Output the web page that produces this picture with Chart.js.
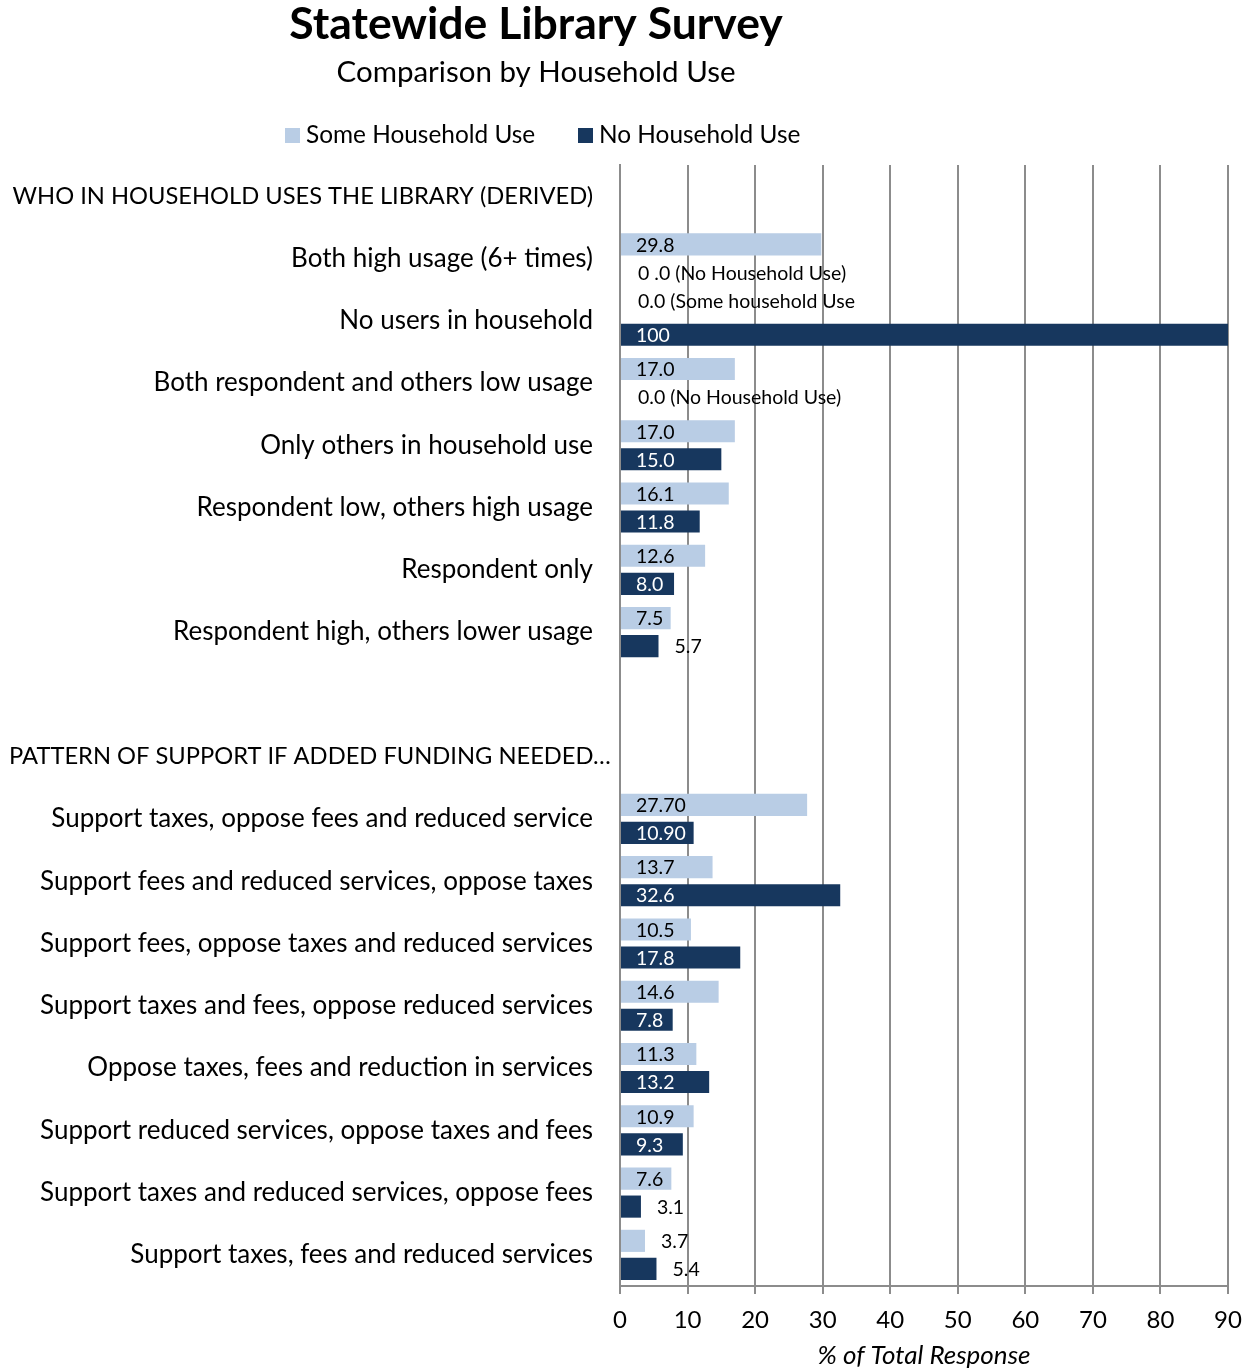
<!DOCTYPE html>
<html>
<head>
<meta charset="utf-8">
<script src="https://cdn.jsdelivr.net/npm/chart.js@4.4.0/dist/chart.umd.min.js"></script>
<style>
  html, body { margin: 0; padding: 0; background: #ffffff; }
  #wrap { width: 1254px; height: 1371px; position: relative; }
</style>
</head>
<body>
<div id="wrap"><canvas id="c" width="1254" height="1371"></canvas></div>
<script>
// ---------------- DATA ----------------
const categories = [
  'WHO IN HOUSEHOLD USES THE LIBRARY (DERIVED)',
  'Both high usage (6+ times)',
  'No users in household',
  'Both respondent and others low usage',
  'Only others in household use',
  'Respondent low, others high usage',
  'Respondent only',
  'Respondent high, others lower usage',
  '',
  'PATTERN OF SUPPORT IF ADDED FUNDING NEEDED…',
  'Support taxes, oppose fees and reduced service',
  'Support fees and reduced services, oppose taxes',
  'Support fees, oppose taxes and reduced services',
  'Support taxes and fees, oppose reduced services',
  'Oppose taxes, fees and reduction in services',
  'Support reduced services, oppose taxes and fees',
  'Support taxes and reduced services, oppose fees',
  'Support taxes, fees and reduced services'
];
const headerRows = [0, 9];

const seriesNames = ['Some Household Use', 'No Household Use'];

const someUse = [null, 29.8, 0, 17.0, 17.0, 16.1, 12.6, 7.5, null, null, 27.7, 13.7, 10.5, 14.6, 11.3, 10.9, 7.6, 3.7];
const noUse   = [null, 0, 100, 0, 15.0, 11.8, 8.0, 5.7, null, null, 10.9, 32.6, 17.8, 7.8, 13.2, 9.3, 3.1, 5.4];

const someLabels = [null, '29.8', '0.0 (Some household Use', '17.0', '17.0', '16.1', '12.6', '7.5', null, null,
  '27.70', '13.7', '10.5', '14.6', '11.3', '10.9', '7.6', '3.7'];
const noLabels = [null, '0 .0 (No Household Use)', '100', '0.0 (No Household Use)', '15.0', '11.8', '8.0', '5.7', null, null,
  '10.90', '32.6', '17.8', '7.8', '13.2', '9.3', '3.1', '5.4'];

const xTicks = [0, 10, 20, 30, 40, 50, 60, 70, 80, 90];

const titleText = 'Statewide Library Survey';
const subtitleText = 'Comparison by Household Use';
const xTitle = '% of Total Response';

// ---------------- STYLE ----------------
const FONT = 'Lato, "Open Sans", sans-serif';
const LIGHT = '#b9cde5';
const DARK = '#17375e';
const GRID = '#8c8c8c';

const labelPlugin = {
  id: 'customText',
  afterDraw(chart) {
    const ctx = chart.ctx;
    const y = chart.scales.y;
    const x = chart.scales.x;
    ctx.save();
    // category labels
    ctx.fillStyle = '#000';
    ctx.textBaseline = 'middle';
    categories.forEach((c, i) => {
      const py = y.getPixelForValue(i);
      if (headerRows.includes(i)) {
        ctx.font = '23.7px ' + FONT;
        if (i === 9) { ctx.textAlign = 'left'; ctx.fillText(c, 9, py); }
        else { ctx.textAlign = 'right'; ctx.fillText(c, 593, py); }
      } else {
        ctx.font = '26px ' + FONT;
        ctx.textAlign = 'right';
        ctx.fillText(c, 593, py);
      }
    });
    // data labels
    ctx.font = '19.5px ' + FONT;
    ctx.textAlign = 'left';
    const labelSets = [someLabels, noLabels];
    chart.data.datasets.forEach((ds, di) => {
      const meta = chart.getDatasetMeta(di);
      meta.data.forEach((bar, i) => {
        const txt = labelSets[di][i];
        if (txt == null) return;
        const v = ds.data[i];
        const x0 = x.getPixelForValue(0);
        let tx, ty = bar.y + 1, col;
        if (v === 0) { tx = x0 + 18; col = '#000'; if (di === 0) ty -= 6; }
        else if (v < 7) { tx = Math.min(bar.x, x.right) + 16; col = '#000'; }
        else { tx = x0 + 16; col = di === 1 ? '#ffffff' : '#000'; }
        ctx.fillStyle = col;
        ctx.fillText(txt, tx, ty);
      });
    });
    // title, subtitle, legend
    ctx.fillStyle = '#000';
    ctx.textAlign = 'center';
    ctx.font = 'bold 44.5px ' + FONT;
    ctx.fillText(titleText, 536, 25);
    ctx.font = '29.5px ' + FONT;
    ctx.fillText(subtitleText, 536, 72);
    ctx.font = '24.4px ' + FONT;
    ctx.textAlign = 'left';
    const legendX = [285, 578];
    [LIGHT, DARK].forEach((col, k) => {
      ctx.fillStyle = col;
      ctx.fillRect(legendX[k], 128, 15, 15);
      ctx.fillStyle = '#000';
      ctx.fillText(seriesNames[k], legendX[k] + 21, 135);
    });
    ctx.restore();
  }
};

new Chart(document.getElementById('c'), {
  type: 'bar',
  data: {
    labels: categories,
    datasets: [
      { label: seriesNames[0], data: someUse, backgroundColor: LIGHT, categoryPercentage: 0.9, barPercentage: 0.79 },
      { label: seriesNames[1], data: noUse, backgroundColor: DARK, categoryPercentage: 0.9, barPercentage: 0.79 }
    ]
  },
  options: {
    indexAxis: 'y',
    responsive: false,
    animation: false,
    layout: { padding: { top: 165, right: 26, left: 0, bottom: 0 } },
    plugins: {
      legend: { display: false },
      title: { display: false },
      tooltip: { enabled: false }
    },
    scales: {
      x: {
        min: 0, max: 90,
        afterBuildTicks(scale) { scale.ticks = xTicks.map(v => ({ value: v })); },
        afterFit(scale) { scale.height = 85; },
        grid: { color: GRID, lineWidth: 2, tickLength: 8, drawTicks: true },
        border: { color: GRID, width: 2 },
        ticks: { color: '#000', font: { family: FONT, size: 24 }, padding: 12, maxRotation: 0 },
        title: { display: true, text: xTitle, color: '#000', font: { family: FONT, size: 26, style: 'italic' }, padding: { top: 0, bottom: 0 } }
      },
      y: {
        afterFit(scale) { scale.width = 620; },
        grid: { display: false },
        border: { color: GRID, width: 2 },
        ticks: { display: false }
      }
    }
  },
  plugins: [labelPlugin]
});
</script>
</body>
</html>
